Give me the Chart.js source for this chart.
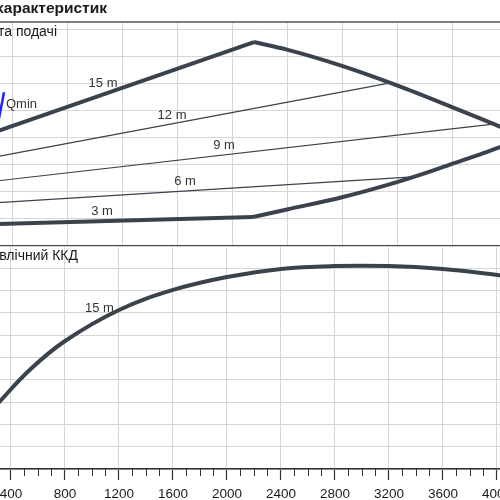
<!DOCTYPE html>
<html>
<head>
<meta charset="utf-8">
<script src="https://cdn.jsdelivr.net/npm/chart.js@4.4.1/dist/chart.umd.min.js"></script>
<style>
  html, body { margin: 0; padding: 0; background: #fff; }
  #wrap { position: relative; width: 500px; height: 500px; overflow: hidden; font-family: 'Liberation Sans', Arial, sans-serif; color: #1a1a1a; }
  .box { position: absolute; left: -103px; width: 675px; }
  #topBox { top: 14px; height: 234px; }
  #botBox { top: 240px; height: 260px; }
  .txt { position: absolute; white-space: nowrap; }
  #title { right: 393px; top: -1px; font-weight: bold; font-size: 15.5px; line-height: 18px; }
  #lblTop { right: 443px; top: 22px; font-size: 14px; line-height: 18px; }
  #lblBot { right: 422px; top: 246px; font-size: 14px; line-height: 18px; }
</style>
</head>
<body>
<div id="wrap">
  <div class="box" id="topBox"><canvas id="topChart" width="675" height="234"></canvas></div>
  <div class="box" id="botBox"><canvas id="botChart" width="675" height="260"></canvas></div>
  <div class="txt" id="title">Графік характеристик</div>
  <div class="txt" id="lblTop">Висота подачі</div>
  <div class="txt" id="lblBot">Гідравлічний ККД</div>
</div>
<script>
// flow axis
const flowMin = 0;
const flowMax = 4400;
const flowStep = 400;

// upper panel (working range)
const topRiseX = [300, 2160];
const topRiseY = [4.25, 7.53];
const topFallX = [2160, 2400, 2800, 3200, 3600, 3949, 4140];
const topFallY = [7.53, 7.25, 6.65, 5.93, 5.13, 4.41, 4.02];
const baseX = [300, 2153];
const baseY = [0.81, 1.07];
const rightX = [2153, 2400, 2800, 3200, 3400, 3600, 3800, 3949, 4140];
const rightY = [1.07, 1.35, 1.80, 2.36, 2.68, 3.03, 3.37, 3.65, 4.02];
const h12X = [300, 3162];
const h12Y = [3.31, 6.03];
const h9X = [300, 3900];
const h9Y = [2.41, 4.50];
const h6X = [300, 3316];
const h6Y = [1.60, 2.55];
const qminX = [298, 342];
const qminY = [4.52, 5.68];
const topMax = 8.27;

// lower panel (efficiency)
const effX = [300, 538, 800, 1200, 1600, 2000, 2400, 2800, 3200, 3600, 3949, 4140];
const effY = [29.2, 44.4, 57.4, 71.3, 80.3, 86.1, 89.7, 91.0, 91.0, 89.7, 87.4, 85.8];

// curve labels: text, x, y, align
const topLabels = [
  ['15 m', 1062, 6.01, 'center'],
  ['12 m', 1564, 4.83, 'center'],
  ['9 m', 1942, 3.73, 'center'],
  ['6 m', 1658, 2.40, 'center'],
  ['3 m', 1055, 1.29, 'center'],
  ['Qmin', 356, 5.24, 'left']
];
const botLabels = [
  ['15 m', 1055, 72.2, 'center']
];

const lineCol = '#3a434d';
const gridCol = '#d6d6d6';
const FONT = "'Liberation Sans', Arial, sans-serif";

function pts(xs, ys) {
  return xs.map((x, i) => ({ x: x, y: ys[i] }));
}

// curve: 0 = straight segments, 'mono' = monotone spline, number = bezier tension
function ds(xs, ys, width, color, curve) {
  return {
    data: pts(xs, ys),
    borderColor: color || lineCol,
    borderWidth: width,
    pointRadius: 0,
    fill: false,
    tension: typeof curve === 'number' ? curve : 0,
    cubicInterpolationMode: curve === 'mono' ? 'monotone' : 'default'
  };
}

const labelPlugin = {
  id: 'curveLabels',
  afterDatasetsDraw(chart, args, opts) {
    const ctx = chart.ctx;
    const xs = chart.scales.x, ys = chart.scales.y;
    ctx.save();
    ctx.font = '13px ' + FONT;
    ctx.fillStyle = '#333';
    ctx.textBaseline = 'middle';
    (opts.items || []).forEach(it => {
      ctx.textAlign = it[3];
      ctx.fillText(it[0], xs.getPixelForValue(it[1]), ys.getPixelForValue(it[2]));
    });
    ctx.restore();
  }
};

const framePlugin = {
  id: 'frame',
  afterDraw(chart, args, opts) {
    const ctx = chart.ctx;
    const a = chart.chartArea;
    ctx.save();
    if (opts.topLine) {
      ctx.strokeStyle = '#555';
      ctx.lineWidth = 1.5;
      ctx.beginPath();
      ctx.moveTo(a.left, a.top);
      ctx.lineTo(a.right, a.top);
      ctx.stroke();
    }
    if (opts.minorTicks) {
      const xs = chart.scales.x;
      ctx.strokeStyle = '#333';
      ctx.lineWidth = 1;
      for (let v = flowMin; v <= flowMax; v += 100) {
        if (v % flowStep === 0) continue;
        const px = Math.round(xs.getPixelForValue(v)) + 0.5;
        ctx.beginPath();
        ctx.moveTo(px, a.bottom);
        ctx.lineTo(px, a.bottom + 7);
        ctx.stroke();
      }
    }
    ctx.restore();
  }
};

const hiddenY = {
  ticks: { display: false },
  grid: { color: gridCol, lineWidth: 1, drawTicks: false },
  border: { display: false },
  afterFit: s => { s.width = 0; }
};

new Chart(document.getElementById('topChart'), {
  type: 'line',
  data: {
    datasets: [
      ds(topRiseX, topRiseY, 4),
      ds(topFallX, topFallY, 4, null, 'mono'),
      ds(baseX, baseY, 4),
      ds(rightX, rightY, 4, null, 'mono'),
      ds(h12X, h12Y, 1.2),
      ds(h9X, h9Y, 1.2),
      ds(h6X, h6Y, 1.2),
      ds(qminX, qminY, 2.5, '#1f1fff')
    ]
  },
  options: {
    responsive: false,
    animation: false,
    layout: { padding: { left: 60, right: 10, top: 8, bottom: 2 } },
    plugins: {
      legend: { display: false },
      tooltip: { enabled: false },
      curveLabels: { items: topLabels },
      frame: { topLine: true }
    },
    scales: {
      x: {
        type: 'linear', min: flowMin, max: flowMax,
        ticks: { display: false, stepSize: flowStep },
        grid: { color: gridCol, drawTicks: false },
        border: { color: '#444', width: 1.5 },
        afterFit: s => { s.height = 0; }
      },
      y: Object.assign({ min: 0, max: topMax }, hiddenY, {
        ticks: { display: false, stepSize: 1, includeBounds: false }
      })
    }
  },
  plugins: [labelPlugin, framePlugin]
});

new Chart(document.getElementById('botChart'), {
  type: 'line',
  data: {
    datasets: [
      ds(effX, effY, 4, null, 0.4)
    ]
  },
  options: {
    responsive: false,
    animation: false,
    layout: { padding: { left: 60, right: 10, top: 6, bottom: 0 } },
    plugins: {
      legend: { display: false },
      tooltip: { enabled: false },
      curveLabels: { items: botLabels },
      frame: { minorTicks: true }
    },
    scales: {
      x: {
        type: 'linear', min: flowMin, max: flowMax,
        ticks: {
          stepSize: flowStep, color: '#1a1a1a', padding: 6, maxRotation: 0,
          font: { family: FONT, size: 13.5 },
          callback: v => String(v)
        },
        grid: { color: gridCol, tickColor: '#333', tickLength: 11, tickWidth: 1.2 },
        border: { color: '#333', width: 1.5 },
        afterFit: s => { s.height = 31; }
      },
      y: Object.assign({ min: 0, max: 100 }, hiddenY, {
        ticks: { display: false, stepSize: 10 }
      })
    }
  },
  plugins: [labelPlugin, framePlugin]
});
</script>
</body>
</html>
